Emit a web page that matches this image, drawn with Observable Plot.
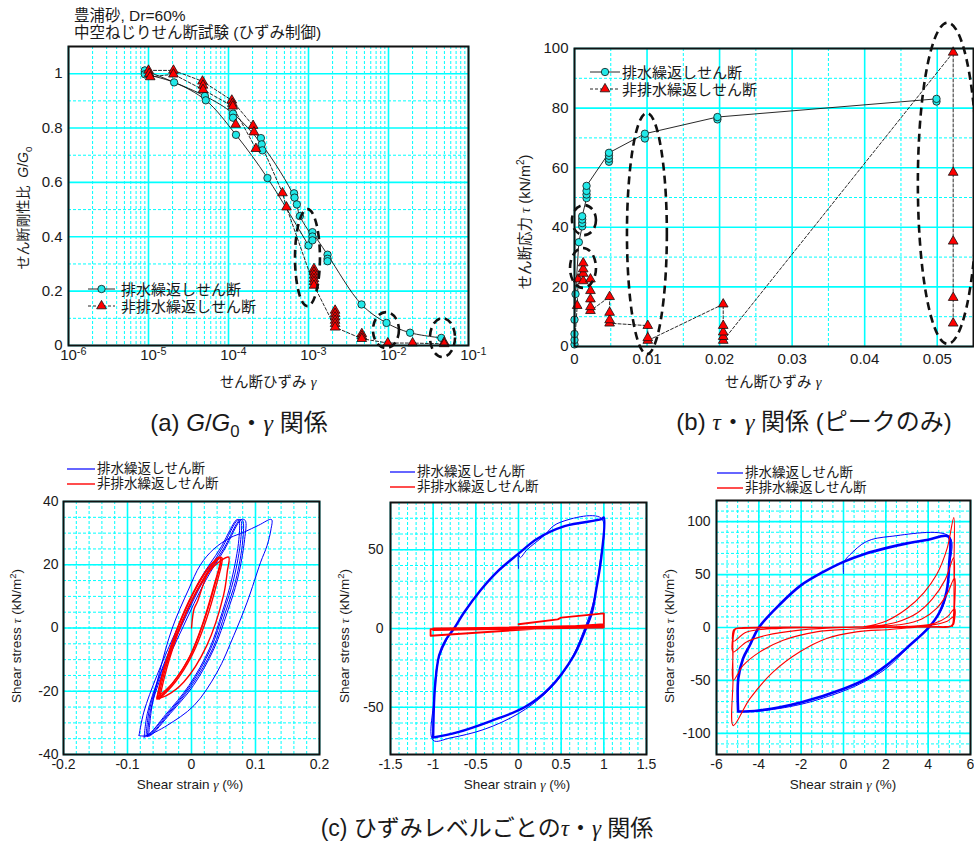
<!DOCTYPE html>
<html>
<head>
<meta charset="utf-8">
<script src="https://cdn.jsdelivr.net/npm/d3@7"></script>
<script src="https://cdn.jsdelivr.net/npm/@observablehq/plot@0.6"></script>
<style>
  body { margin: 0; background: #fff; }
  #fig { position: relative; width: 974px; height: 847px; overflow: hidden;
         font-family: "Liberation Sans", Arial, "Noto Sans CJK JP", sans-serif; color: #1a1a1a; }
  .pn { position: absolute; }
  .t { position: absolute; white-space: nowrap; line-height: 1; }
  .gk { font-family: "Liberation Serif", "DejaVu Serif", serif; font-style: italic; }
  .t sub, .t sup { font-size: 0.7em; line-height: 0; }
</style>
</head>
<body>
<div id="fig"></div>
<script>
// ---------- (a) G/G0 – shear strain ----------
const ggStrainTicks = [1e-6, 1e-5, 1e-4, 1e-3, 1e-2, 1e-1];
const ggRatioTicks = [0, 0.2, 0.4, 0.6, 0.8, 1];
const ggRatioMinor = [0.1, 0.3, 0.5, 0.7, 0.9];

// drained cyclic shear: [strain, G/G0]
const ggDrained = [
  [9.0e-6, 1.012], [9.0e-6, 0.998], [2.09e-5, 0.968], [5.06e-5, 0.918], [5.2e-5, 0.902],
  [1.14e-4, 0.853], [1.14e-4, 0.838], [1.24e-4, 0.775], [2.54e-4, 0.763], [2.6e-4, 0.74],
  [2.65e-4, 0.718], [3.07e-4, 0.616], [6.6e-4, 0.56], [6.7e-4, 0.544], [7.15e-4, 0.519],
  [7.8e-4, 0.476], [1.0e-3, 0.368], [1.12e-3, 0.417], [1.12e-3, 0.401], [1.12e-3, 0.387],
  [1.73e-3, 0.334], [1.73e-3, 0.319], [1.73e-3, 0.31], [4.6e-3, 0.151], [9.44e-3, 0.083],
  [1.86e-2, 0.047], [4.57e-2, 0.028]
];
// undrained cyclic shear: [strain, G/G0]
const ggUndrained = [
  [1.0e-5, 1.012], [1.02e-5, 1.0], [1.05e-5, 0.988], [2.05e-5, 1.012], [2.05e-5, 0.998],
  [4.73e-5, 0.972], [4.8e-5, 0.957], [4.8e-5, 0.941], [1.1e-4, 0.902], [1.12e-4, 0.89],
  [1.13e-4, 0.88], [1.23e-4, 0.813], [2.03e-4, 0.809], [2.08e-4, 0.785], [2.2e-4, 0.724],
  [4.73e-4, 0.561], [5.3e-4, 0.509],
  [1.17e-3, 0.282], [1.17e-3, 0.27], [1.17e-3, 0.258], [1.17e-3, 0.245], [1.17e-3, 0.234], [1.17e-3, 0.221],
  [2.15e-3, 0.129], [2.15e-3, 0.117], [2.15e-3, 0.104], [2.15e-3, 0.092], [2.15e-3, 0.08], [2.15e-3, 0.067],
  [4.64e-3, 0.043], [4.64e-3, 0.034], [4.64e-3, 0.025],
  [9.8e-3, 0.009], [2.0e-2, 0.009], [4.97e-2, 0.012], [4.97e-2, 0.006]
];
const ggDrainedPaths = [
  [[9.0e-6, 0.998], [2.09e-5, 0.968], [5.2e-5, 0.902], [1.24e-4, 0.775], [3.07e-4, 0.616], [1.0e-3, 0.368]],
  [[9.0e-6, 1.012], [5.06e-5, 0.918], [1.14e-4, 0.853], [2.6e-4, 0.74], [6.7e-4, 0.544], [7.8e-4, 0.476], [1.12e-3, 0.401]],
  [[1.12e-3, 0.417], [1.73e-3, 0.334], [4.6e-3, 0.151], [9.44e-3, 0.083], [1.86e-2, 0.047], [4.57e-2, 0.028]]
];
const ggUndrainedPaths = [
  [[1.0e-5, 1.012], [2.05e-5, 1.012], [4.73e-5, 0.972], [1.1e-4, 0.902], [2.03e-4, 0.809], [4.73e-4, 0.561],
   [5.3e-4, 0.509], [1.17e-3, 0.221], [2.15e-3, 0.067], [4.64e-3, 0.025], [9.8e-3, 0.009], [2.0e-2, 0.009], [4.97e-2, 0.006]],
  [[1.05e-5, 0.988], [2.05e-5, 0.998], [4.8e-5, 0.941], [1.13e-4, 0.88], [2.2e-4, 0.724]]
];
// circled groups, as data-space boxes [x1, x2, y1, y2]
const ggCircled = [
  [6.88e-4, 1.41e-3, 0.143, 0.5],
  [6.49e-3, 1.37e-2, -0.011, 0.121],
  [3.35e-2, 6.88e-2, -0.044, 0.099]
];

// ---------- (b) peak shear stress – shear strain ----------
const tgStrainTicks = [0, 0.01, 0.02, 0.03, 0.04, 0.05];
const tgStrainMinor = [0.005, 0.015, 0.025, 0.035, 0.045];
const tgStressTicks = [0, 20, 40, 60, 80, 100];
const tgStressMinor = [10, 30, 50, 70, 90];

const tgDrained = [
  [0, 0.7], [0, 2.2], [0, 4.2], [0, 9], [0.00014, 17.6], [0.0006, 35],
  [0.00106, 40.3], [0.00106, 41.4], [0.00106, 42.6], [0.00106, 43.7],
  [0.00166, 49.8], [0.00166, 51], [0.00166, 52.2], [0.00166, 53.9],
  [0.00475, 62], [0.00475, 63], [0.00475, 64], [0.00475, 65],
  [0.0097, 69.8], [0.0097, 71.4], [0.0197, 76.2], [0.0197, 77], [0.0499, 82.2], [0.0499, 83.1]
];
const tgUndrained = [
  [0.00037, 13.7], [0.0005, 22.6],
  [0.0012, 22], [0.0012, 24.5], [0.0012, 26], [0.0012, 28],
  [0.0022, 12], [0.0022, 13.3], [0.0022, 15.9], [0.0022, 18.7], [0.0022, 22.6],
  [0.00484, 7.8], [0.00484, 8.9], [0.00484, 11.4], [0.00484, 16.7],
  [0.0101, 2], [0.0101, 2.9], [0.0101, 7],
  [0.0205, 2], [0.0205, 3.3], [0.0205, 4.8], [0.0205, 7], [0.0205, 14.2],
  [0.0522, 7.8], [0.0522, 16.4], [0.0522, 35.3], [0.0522, 58.4], [0.0522, 98.7]
];
const tgDrainedPath = [
  [0, 0.7], [0, 9], [0.00014, 17.6], [0.0006, 35], [0.00106, 40.3], [0.00106, 43.7],
  [0.00166, 49.8], [0.00166, 53.9], [0.00475, 65], [0.0097, 71.4], [0.0197, 77], [0.0499, 83.1]
];
const tgUndrainedPath = [
  [0, 0], [0.00037, 13.7], [0.0005, 22.6], [0.0012, 28], [0.0012, 22], [0.0022, 22.6], [0.0022, 12],
  [0.00484, 16.7], [0.00484, 7.8], [0.0101, 7], [0.0101, 2], [0.0205, 14.2], [0.0205, 2],
  [0.0522, 98.7], [0.0522, 7.8]
];
const tgCircled = [
  [-0.00028, 0.00303, 37.2, 47.3],
  [-0.00055, 0.00303, 19.5, 32.9],
  [0.0073, 0.0128, -2.7, 78.2],
  [0.0474, 0.0556, 0.7, 108.5]
];

// ---------- (c) hysteresis loops: [strain %, stress kN/m2] ----------
const c1Drained = [
  [[-0.082, -34], [-0.0745, -26.6], [-0.054, -15], [-0.022, 0], [0.014, 15.5], [0.045, 25.2], [0.071, 34.3],
   [0.074, 34], [0.074, 28], [0.063, 15.5], [0.048, 5], [0.028, -6.6], [-0.004, -18.2], [-0.04, -27.3], [-0.07, -34], [-0.082, -34]],
  [[-0.074, -34.5], [-0.069, -27], [-0.05, -15], [-0.019, 0], [0.017, 15], [0.047, 25], [0.073, 34.3],
   [0.077, 34], [0.077, 28], [0.066, 15.5], [0.05, 5], [0.03, -6.6], [-0.002, -18.2], [-0.038, -27.3], [-0.068, -34], [-0.074, -34.5]],
  [[-0.071, -34], [-0.066, -26], [-0.047, -14], [-0.016, 0.5], [0.02, 15.5], [0.05, 25], [0.076, 34.3],
   [0.08, 34], [0.08, 27.5], [0.069, 15], [0.053, 5], [0.033, -6.6], [0.001, -18], [-0.035, -27], [-0.065, -33.8], [-0.071, -34]],
  [[-0.069, -34.3], [-0.064, -26], [-0.045, -14], [-0.014, 0], [0.022, 15], [0.052, 25], [0.078, 34.3],
   [0.084, 34], [0.083, 28], [0.072, 15.5], [0.056, 5], [0.035, -6.6], [0.003, -18.2], [-0.033, -27], [-0.064, -34], [-0.069, -34.3]],
  [[-0.067, -34], [-0.062, -25], [-0.05, -14], [-0.03, 0], [-0.005, 12], [0.014, 20], [0.035, 25], [0.06, 28.5],
   [0.082, 30.3], [0.105, 32.5], [0.125, 34.3], [0.124, 31], [0.118, 26], [0.108, 20.8], [0.087, 8.2], [0.066, -2.4],
   [0.04, -14], [0.004, -24.5], [-0.038, -30.8], [-0.067, -34]]
];
const c1Undrained = [
  [[0, 0], [0.004, 6], [0.009, 8.2], [0.024, 16.6], [0.043, 22.4]],
  [[-0.054, -22.4], [-0.043, -12.9], [-0.022, -0.2], [0.004, 11.4], [0.03, 19.8], [0.043, 22.4],
   [0.046, 22], [0.0375, 14.5], [0.019, 1.9], [-0.0016, -8.7], [-0.028, -17.1], [-0.052, -22.4]],
  [[-0.052, -22.4], [-0.041, -13], [-0.02, -0.5], [0.006, 11], [0.032, 19.5], [0.046, 22.4],
   [0.048, 22], [0.04, 14.5], [0.022, 2], [0.001, -8.5], [-0.025, -17], [-0.05, -22.4]],
  [[-0.05, -22.4], [-0.039, -13], [-0.018, 0], [0.008, 11.5], [0.035, 19.5], [0.058, 22.4],
   [0.056, 18], [0.05, 10.3], [0.024, -5.5], [-0.012, -17.1], [-0.04, -21.5], [-0.054, -22.4]],
  [[-0.054, -22], [-0.044, -13.5], [-0.024, -1], [0.002, 11], [0.028, 19.5], [0.044, 22.2],
   [0.045, 21], [0.036, 14], [0.017, 1], [-0.004, -9.5], [-0.03, -17.5], [-0.054, -22]]
];

const c2DrainedMain = [
  [-1, -69], [-0.98, -38], [-0.93, -17], [-0.85, -7], [-0.755, 0], [-0.64, 10], [-0.44, 24.6], [-0.25, 36],
  [0, 47.5], [0.22, 57], [0.54, 65], [0.97, 69.4], [1, 70.4],
  [0.97, 45], [0.91, 24.6], [0.86, 10], [0.79, 0], [0.65, -17], [0.36, -38], [0.07, -50], [-0.325, -58.8],
  [-0.72, -66], [-1, -69.2]
];
const c2DrainedAlt = [
  [0, 38], [0, 47], [0.02, 45], [0.1, 50], [0.3, 59], [0.45, 66.5], [0.97, 70],
  [0.95, 40], [0.9, 22], [0.83, 8], [0.76, -2], [0.66, -15], [0.5, -30], [0.3, -42], [0, -54],
  [-0.4, -64], [-0.8, -69.5], [-1, -71], [-0.99, -45], [-0.94, -20], [-0.77, 0]
];
const c2Undrained = [
  [0, 2.7], [0.46, 5.8], [0.5, 6.9], [1, 9.6], [1, 2.7], [-1.03, -4.6], [-1.03, -0.4],
  [1, 2], [1, 0.8], [-1, -1], [-1, -0.2], [1, 1.6], [1, 0.6], [-1, -0.8], [-1, 0], [1, 1.2]
];

const c3DrainedMain = [
  [-4.98, -79], [-4.97, -48], [-4.74, -29], [-4.43, -17], [-4, 0], [-3, 22], [-2, 40], [-1, 52], [0, 62],
  [1, 69.5], [2, 75], [3, 79.5], [4, 83], [4.95, 86],
  [4.99, 59], [4.87, 33.9], [4.55, 14.9], [4.03, 0], [3.13, -16.8], [2.03, -35.8], [1.09, -48.4], [0.016, -57.9],
  [-1.98, -70.6], [-4, -78.5], [-4.98, -79.4]
];
const c3DrainedAlt = [
  [0, 51], [0, 61], [0.05, 63], [0.3, 68.7], [1.09, 81.3], [2.19, 86], [5, 86],
  [4.98, 55], [4.85, 30], [4.5, 12], [3.95, -1], [3, -20], [2, -39], [1, -51], [0, -60], [-2, -72.5], [-4, -79], [-5, -79.5]
];
const c3Undrained = [
  [0, 0], [1, 1], [2, 6], [3, 18], [3.8, 33], [4.4, 50], [4.9, 75], [5.21, 104],
  [5.22, 60], [5.2, 12], [5.12, 2], [4.8, 0.8], [3.5, 0.3], [2.19, -1.9], [0.61, -4.1], [-0.8, -10.4],
  [-2.06, -23], [-3.32, -42], [-4.43, -67.4], [-5.21, -92.7],
  [-5.22, -50], [-5.2, -8], [-5.1, -1.5], [-4.8, -0.8], [-3, -0.3], [-1, 0], [1.5, 1.5], [2.5, 5], [3.5, 14],
  [4.2, 27], [4.8, 45], [5.21, 66],
  [5.22, 35], [5.2, 5], [5.05, 1], [4, 0.5], [2, 0], [0.3, -1.6], [-1.28, -4.1], [-2.85, -12], [-3.95, -23],
  [-4.74, -35.8], [-5.21, -50],
  [-5.22, -25], [-5.2, -3], [-5, -0.8], [-3, -0.2], [0, 0.3], [2.8, 3], [3.7, 8], [4.4, 18], [4.9, 32], [5.25, 47],
  [5.25, 20], [5.2, 3], [5.0, 1], [3, 0.5], [0, 0], [-2.06, -2.5], [-3.64, -7.3], [-4.58, -13.6], [-5.21, -23],
  [-5.22, -8], [-5.1, -1], [-4.5, -0.5], [0, 0.3], [3.5, 1.5], [4.3, 4], [4.9, 10], [5.25, 18],
  [5.23, 6], [5.1, 1.2], [4.5, 0.8], [0, 0.2], [-3, -0.8], [-4.6, -4.5], [-5.2, -13],
  [-5.18, -2], [-4.9, -0.5], [0, 0.4], [4, 2], [4.9, 6], [5.2, 10], [5.15, 1]
];

const legendDrained = "排水繰返しせん断";
const legendUndrained = "非排水繰返しせん断";

// ---------- drawing helpers ----------
const FONT = '"Liberation Sans", Arial, "Noto Sans CJK JP", sans-serif';
const CYAN = "#00ffff";
const CYAN_FILL = "#22e8e8";
const RED = "#ff0000";
const BLUE = "#0000ff";
const INK = "#111";
const fig = document.getElementById("fig");
const X = d => d[0], Y = d => d[1];
const str = d => String(d);

function grid(xMajor, xMinor, yMajor, yMinor) {
  return [
    Plot.ruleX(xMinor, {stroke: CYAN, strokeWidth: 1, strokeDasharray: "3,2"}),
    Plot.ruleY(yMinor, {stroke: CYAN, strokeWidth: 1, strokeDasharray: "3,2"}),
    Plot.ruleX(xMajor, {stroke: CYAN, strokeWidth: 1.6}),
    Plot.ruleY(yMajor, {stroke: CYAN, strokeWidth: 1.6})
  ];
}

function panel(cfg) {
  const plot = Plot.plot({
    width: cfg.width, height: cfg.height,
    marginTop: cfg.m[0], marginRight: cfg.m[1], marginBottom: cfg.m[2], marginLeft: cfg.m[3],
    style: {fontFamily: FONT, fontSize: cfg.fs + "px", color: "#1a1a1a", background: "none", overflow: "visible"},
    x: {...cfg.x, tickSize: 0, label: null},
    y: {...cfg.y, tickSize: 0, label: null},
    marks: cfg.marks
  });
  const holder = document.createElement("div");
  holder.className = "pn";
  Object.assign(holder.style, {left: cfg.left + "px", top: cfg.top + "px", width: cfg.width + "px", height: cfg.height + "px"});
  holder.appendChild(plot);
  fig.appendChild(holder);
  return plot;
}

function rings(plot, boxes) {
  const sx = plot.scale("x"), sy = plot.scale("y");
  for (const [x1, x2, y1, y2] of boxes) {
    const px1 = sx.apply(x1), px2 = sx.apply(x2), py1 = sy.apply(y1), py2 = sy.apply(y2);
    d3.select(plot).append("ellipse")
      .attr("cx", (px1 + px2) / 2).attr("cy", (py1 + py2) / 2)
      .attr("rx", Math.abs(px2 - px1) / 2).attr("ry", Math.abs(py2 - py1) / 2)
      .attr("fill", "none").attr("stroke", INK).attr("stroke-width", 2.6).attr("stroke-dasharray", "8,5");
  }
}

function text(html, x, y, size, opts = {}) {
  const d = document.createElement("div");
  d.className = "t";
  d.innerHTML = html;
  d.style.fontSize = size + "px";
  d.style.left = x + "px";
  d.style.top = y + "px";
  const a = opts.anchor || "middle";
  const tx = a === "start" ? "0" : a === "end" ? "-100%" : "-50%";
  d.style.transform = `translate(${tx},-50%)` + (opts.rotate ? " rotate(-90deg)" : "");
  fig.appendChild(d);
}

function legendRow(x1, x2, y, line, marker, label, tx, fs) {
  const w = x2 - x1;
  const svg = d3.select(fig).append("svg").attr("class", "pn")
    .style("left", (x1 - 6) + "px").style("top", (y - 8) + "px")
    .attr("width", w + 12).attr("height", 16).style("overflow", "visible");
  svg.append("line").attr("x1", 6).attr("x2", w + 6).attr("y1", 8).attr("y2", 8)
    .attr("stroke", line.stroke).attr("stroke-width", line.width).attr("stroke-dasharray", line.dash || null);
  if (marker === "circle") {
    svg.append("circle").attr("cx", w / 2 + 6).attr("cy", 8).attr("r", 3.7)
      .attr("fill", CYAN_FILL).attr("stroke", INK).attr("stroke-width", 0.8);
  } else if (marker === "triangle") {
    svg.append("path").attr("d", d3.symbol(d3.symbolTriangle, Math.PI * 3.6 * 3.6)())
      .attr("transform", `translate(${w / 2 + 6},8)`)
      .attr("fill", RED).attr("stroke", INK).attr("stroke-width", 0.8);
  }
  text(label, tx, y, fs, {anchor: "start"});
}

// ---------- panel (a) ----------
const ggMinorX = [];
for (const e of [-6, -5, -4, -3, -2]) for (const m of [2, 3, 4, 5, 6, 7, 8, 9]) ggMinorX.push(m * 10 ** e);

const plotA = panel({
  left: 0, top: 0, width: 490, height: 400, m: [46, 22, 55, 68], fs: 15,
  x: {type: "log", domain: [1e-6, 1e-1], ticks: ggStrainTicks, tickPadding: 4,
      tickFormat: d => "10^" + Math.round(Math.log10(d))},
  y: {domain: [0, 1.1], ticks: ggRatioTicks, tickPadding: 6, tickFormat: str},
  marks: [
    ...grid(ggStrainTicks, ggMinorX, ggRatioTicks, ggRatioMinor),
    ...ggDrainedPaths.map(p => Plot.line(p, {x: X, y: Y, stroke: INK, strokeWidth: 0.9, curve: "catmull-rom"})),
    ...ggUndrainedPaths.map(p => Plot.line(p, {x: X, y: Y, stroke: INK, strokeWidth: 0.9, strokeDasharray: "3,2"})),
    Plot.dot(ggDrained, {x: X, y: Y, r: 3.7, fill: CYAN_FILL, stroke: INK, strokeWidth: 0.8}),
    Plot.dot(ggUndrained, {x: X, y: Y, symbol: "triangle", r: 3.6, fill: RED, stroke: INK, strokeWidth: 0.8}),
    Plot.frame({stroke: INK, strokeWidth: 2})
  ]
});
rings(plotA, ggCircled);
// powers of ten with raised exponents
d3.select(plotA).selectAll("text").each(function () {
  const m = /^10\^(-?\d+)$/.exec(this.textContent);
  if (!m) return;
  const t = d3.select(this);
  t.text(null);
  t.append("tspan").text("10");
  t.append("tspan").attr("dy", "-0.45em").attr("font-size", "0.72em").text(m[1]);
  t.attr("text-anchor", "start").attr("dx", "-0.556em");
});

// ---------- panel (b) ----------
const plotB = panel({
  left: 490, top: 0, width: 484, height: 400, m: [48, 1, 54, 84], fs: 15,
  x: {domain: [0, 0.055], ticks: tgStrainTicks, tickPadding: 7, tickFormat: str},
  y: {domain: [0, 100], ticks: tgStressTicks, tickPadding: 6, tickFormat: str},
  marks: [
    ...grid(tgStrainTicks, tgStrainMinor, tgStressTicks, tgStressMinor),
    Plot.line(tgDrainedPath, {x: X, y: Y, stroke: INK, strokeWidth: 0.9}),
    Plot.line(tgUndrainedPath, {x: X, y: Y, stroke: INK, strokeWidth: 0.9, strokeDasharray: "3,2"}),
    Plot.dot(tgDrained, {x: X, y: Y, r: 3.7, fill: CYAN_FILL, stroke: INK, strokeWidth: 0.8}),
    Plot.dot(tgUndrained, {x: X, y: Y, symbol: "triangle", r: 3.6, fill: RED, stroke: INK, strokeWidth: 0.8}),
    Plot.frame({stroke: INK, strokeWidth: 2})
  ]
});
rings(plotB, tgCircled);

// ---------- panels (c) ----------
const loopLine = (data, stroke, w) => Plot.line(data, {x: X, y: Y, stroke, strokeWidth: w, curve: "catmull-rom", clip: true});

panel({
  left: 0, top: 455, width: 330, height: 340, m: [46, 11, 41, 63], fs: 14,
  x: {domain: [-0.2, 0.2], ticks: [-0.2, -0.1, 0, 0.1, 0.2], tickPadding: 5, tickFormat: str},
  y: {domain: [-40, 40], ticks: [-40, -20, 0, 20, 40], tickPadding: 5, tickFormat: str},
  marks: [
    ...grid([-0.2, -0.1, 0, 0.1, 0.2], d3.range(-0.18, 0.19, 0.02), [-40, -20, 0, 20, 40], d3.range(-35, 36, 5)),
    ...c1Drained.map(l => loopLine(l, BLUE, 1)),
    ...c1Undrained.map(l => loopLine(l, RED, 1.4)),
    Plot.frame({stroke: INK, strokeWidth: 2})
  ]
});

panel({
  left: 330, top: 455, width: 330, height: 340, m: [47, 14, 41, 60], fs: 14,
  x: {domain: [-1.5, 1.5], ticks: [-1.5, -1, -0.5, 0, 0.5, 1, 1.5], tickPadding: 5, tickFormat: str},
  y: {domain: [-80, 80], ticks: [-50, 0, 50], tickPadding: 7, tickFormat: str},
  marks: [
    ...grid([-1.5, -1, -0.5, 0, 0.5, 1, 1.5], d3.range(-1.4, 1.45, 0.1), [-50, 0, 50], d3.range(-70, 71, 10)),
    loopLine(c2DrainedAlt, BLUE, 1),
    loopLine(c2DrainedMain, BLUE, 2.4),
    Plot.line(c2Undrained, {x: X, y: Y, stroke: RED, strokeWidth: 1.8, clip: true}),
    Plot.frame({stroke: INK, strokeWidth: 2})
  ]
});

panel({
  left: 650, top: 455, width: 324, height: 340, m: [45, 4, 41, 66], fs: 14,
  x: {domain: [-6, 6], ticks: [-6, -4, -2, 0, 2, 4, 6], tickPadding: 5, tickFormat: str},
  y: {domain: [-120, 120], ticks: [-100, -50, 0, 50, 100], tickPadding: 6, tickFormat: str},
  marks: [
    ...grid([-6, -4, -2, 0, 2, 4, 6], d3.range(-5.5, 5.6, 0.5), [-100, -50, 0, 50, 100], d3.range(-110, 111, 10)),
    loopLine(c3DrainedAlt, BLUE, 1),
    loopLine(c3DrainedMain, BLUE, 2.6),
    loopLine(c3Undrained, RED, 1.1),
    Plot.frame({stroke: INK, strokeWidth: 2})
  ]
});

// ---------- legends ----------
legendRow(88, 115, 289, {stroke: INK, width: 0.9}, "circle", legendDrained, 121, 15);
legendRow(88, 115, 306, {stroke: INK, width: 0.9, dash: "3,2"}, "triangle", legendUndrained, 121, 15);
legendRow(590, 620, 72, {stroke: INK, width: 0.9}, "circle", legendDrained, 622, 15);
legendRow(590, 620, 89, {stroke: INK, width: 0.9, dash: "3,2"}, "triangle", legendUndrained, 622, 15);
for (const [x1, x2, y1, y2, tx] of [[67, 95, 469, 484, 97], [390, 415, 472, 487, 417], [717, 743, 473, 488, 745]]) {
  legendRow(x1, x2, y1, {stroke: BLUE, width: 1.2}, null, legendDrained, tx, 13.5);
  legendRow(x1, x2, y2, {stroke: "#ff3a3a", width: 1.8}, null, legendUndrained, tx, 13.5);
}

// ---------- titles, axis labels, captions ----------
const G = '<span class="gk">γ</span>';
const T = '<span class="gk">τ</span>';
text("豊浦砂, Dr=60%", 74, 16, 15.5, {anchor: "start"});
text("中空ねじりせん断試験 (ひずみ制御)", 74, 33, 15.5, {anchor: "start"});
text(`せん断剛性比 &nbsp;<i>G</i>/<i>G</i><sub>0</sub>`, 23, 208, 14, {rotate: true});
text(`せん断ひずみ ${G}`, 268, 382, 14.5);
text(`(a) <i>G</i>/<i>G</i><sub>0</sub>・${G} 関係`, 239, 423, 24);

text(`せん断応力 ${T} (kN/m<sup>2</sup>)`, 525, 222, 14.5, {rotate: true});
text(`せん断ひずみ ${G}`, 773, 382, 14.5);
text(`(b) ${T}・${G} 関係 (ピークのみ)`, 814, 422, 24);

for (const [yx, xx] of [[17, 190], [345, 517], [670, 843]]) {
  text(`Shear stress ${T} (kN/m<sup>2</sup>)`, yx, 636, 13.5, {rotate: true});
  text(`Shear strain ${G} (%)`, xx, 785, 13.5);
}
text(`(c) ひずみレベルごとの${T}・${G} 関係`, 487, 828, 23);
</script>
</body>
</html>
